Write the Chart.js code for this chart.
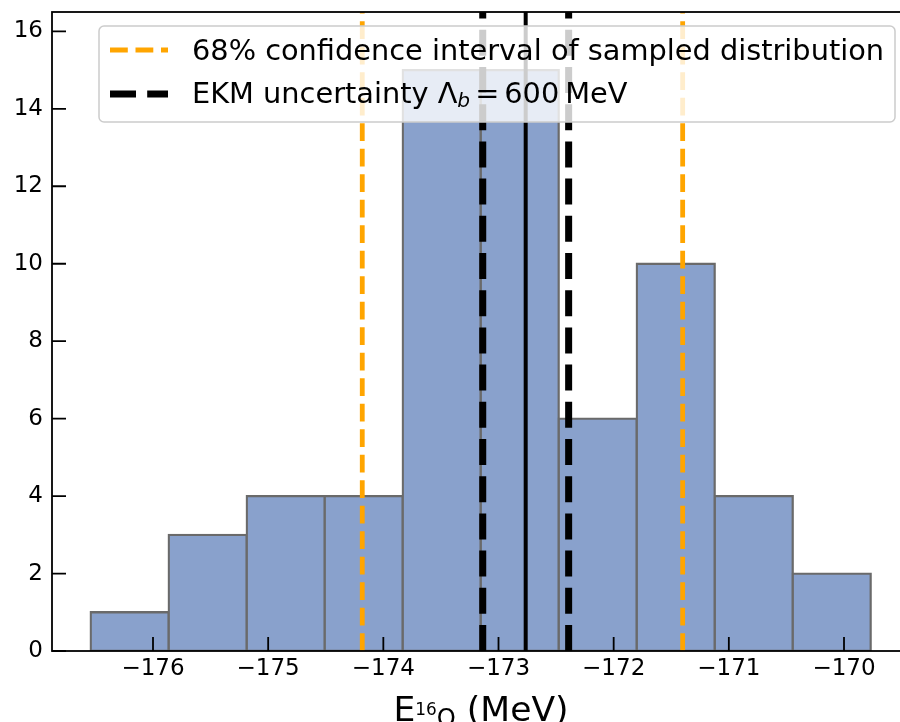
<!DOCTYPE html>
<html lang="en">
<head>
<meta charset="UTF-8">
<title>E16O histogram</title>
<script src="https://cdn.jsdelivr.net/npm/chart.js"></script>
<style>
    * { margin: 0; padding: 0; box-sizing: border-box; }
    html, body { width: 900px; height: 722px; overflow: hidden; background: #fff; }
    .wrap { position: relative; width: 912px; height: 722px; }
</style>
</head>
<body>
<div class="wrap"><canvas id="histCanvas"></canvas></div>
<script>
// histogram of sampled energies (MeV)
const binEdges = [-176.541, -175.864, -175.186, -174.509, -173.832, -173.154, -172.477, -171.800, -171.122, -170.445, -169.768];
const counts = [1, 3, 4, 4, 15, 15, 6, 10, 4, 2];
const xTickValues = [-176, -175, -174, -173, -172, -171, -170];
const yTickValues = [0, 2, 4, 6, 8, 10, 12, 14, 16];
const xRange = [-176.877, -169.427];
const yRange = [0, 16.5];
// 68% interval of the sampled distribution
const ciBounds = [-174.183, -171.401];
// EKM estimate and its band
const ekmCentral = -172.764;
const ekmBounds = [-173.137, -172.391];
const legendTexts = ['68% confidence interval of sampled distribution', 'EKM uncertainty '];

const FONT = "'DejaVu Sans', sans-serif";
const BASE = 24;

function fmt(v) {
    return (v < 0 ? '\u2212' : '') + Math.abs(v);
}

function vline(x, color, width, dash) {
    return {
        type: 'line',
        data: [{x: x, y: yRange[0]}, {x: x, y: yRange[1]}],
        borderColor: color,
        borderWidth: width,
        borderDash: dash,
        borderCapStyle: 'butt',
        pointRadius: 0,
        fill: false,
        order: 1
    };
}

const decor = {
    id: 'decor',
    afterDatasetsDraw(chart) {
        const {ctx, chartArea: a, scales: {x, y}} = chart;
        ctx.save();
        ctx.strokeStyle = '#000';
        ctx.lineWidth = 1.8;
        ctx.strokeRect(a.left, a.top, a.right - a.left, a.bottom - a.top);
        ctx.beginPath();
        xTickValues.forEach(v => {
            const px = x.getPixelForValue(v);
            ctx.moveTo(px, a.bottom);
            ctx.lineTo(px, a.bottom - 14);
        });
        yTickValues.forEach(v => {
            const py = y.getPixelForValue(v);
            ctx.moveTo(a.left, py);
            ctx.lineTo(a.left + 14, py);
        });
        ctx.stroke();
        ctx.restore();
    },
    afterDraw(chart) {
        const {ctx, chartArea: a} = chart;
        const lf = BASE * 1.2;
        ctx.save();

        // legend box
        ctx.beginPath();
        ctx.roundRect(99, 26, 796, 96, 5);
        ctx.fillStyle = 'rgba(255,255,255,0.8)';
        ctx.fill();
        ctx.strokeStyle = '#cccccc';
        ctx.lineWidth = 1.5;
        ctx.stroke();

        // handles
        ctx.lineCap = 'butt';
        ctx.strokeStyle = 'orange';
        ctx.lineWidth = 4.8;
        ctx.setLineDash([17.8, 7.7]);
        ctx.beginPath(); ctx.moveTo(110, 50); ctx.lineTo(168, 50); ctx.stroke();
        ctx.strokeStyle = '#000';
        ctx.lineWidth = 7;
        ctx.setLineDash([26, 11.2]);
        ctx.beginPath(); ctx.moveTo(110, 94); ctx.lineTo(168, 94); ctx.stroke();
        ctx.setLineDash([]);

        // labels
        ctx.fillStyle = '#000';
        ctx.textBaseline = 'alphabetic';
        ctx.textAlign = 'left';
        ctx.font = lf + 'px ' + FONT;
        ctx.fillText(legendTexts[0], 192, 60);
        let tx = 192;
        const by = 103;
        ctx.fillText(legendTexts[1], tx, by);
        tx += ctx.measureText(legendTexts[1]).width;
        ctx.fillText('\u039B', tx, by);
        tx += ctx.measureText('\u039B').width;
        ctx.font = 'oblique ' + (lf * 0.7) + 'px ' + FONT;
        ctx.fillText('b', tx, by + 4);
        tx += ctx.measureText('b').width + 5;
        ctx.font = lf + 'px ' + FONT;
        ctx.fillText('=', tx, by);
        tx += ctx.measureText('=').width + 5;
        ctx.fillText('600', tx, by);
        tx += ctx.measureText('600').width + 6;
        ctx.fillText('MeV', tx, by);

        // x axis title
        const tf = BASE * 1.44;
        const parts = [
            {t: 'E', s: tf, dy: 0},
            {t: '16', s: tf * 0.49, dy: -6},
            {t: 'O', s: tf * 0.7, dy: 4.6},
            {t: ' (MeV)', s: tf, dy: 0}
        ];
        let total = 0;
        parts.forEach(p => { ctx.font = p.s + 'px ' + FONT; p.w = ctx.measureText(p.t).width; total += p.w; });
        let cx = (a.left + a.right) / 2 - total / 2;
        const ty = 721;
        parts.forEach(p => {
            ctx.font = p.s + 'px ' + FONT;
            ctx.fillText(p.t, cx, ty + p.dy);
            cx += p.w;
        });
        ctx.restore();
    }
};

const ctx = document.getElementById('histCanvas').getContext('2d');
const chart = new Chart(ctx, {
    type: 'bar',
    data: {
        datasets: [
            vline(ciBounds[0], 'orange', 4.8, [17.8, 7.7]),
            vline(ciBounds[1], 'orange', 4.8, [17.8, 7.7]),
            vline(ekmBounds[0], '#000', 7, [26, 11.2]),
            vline(ekmBounds[1], '#000', 7, [26, 11.2]),
            vline(ekmCentral, '#000', 4, []),
            {
                type: 'bar',
                data: counts.map((c, i) => ({x: (binEdges[i] + binEdges[i + 1]) / 2, y: c})),
                backgroundColor: 'rgb(137,161,204)',
                borderColor: '#6a6a6a',
                borderWidth: 2.3,
                borderSkipped: false,
                inflateAmount: 1.15,
                barPercentage: 1,
                categoryPercentage: 1,
                order: 10
            }
        ]
    },
    options: {
        responsive: true,
        maintainAspectRatio: false,
        devicePixelRatio: 1,
        animation: false,
        layout: { padding: { top: 12, right: 2, left: 0, bottom: 0 } },
        plugins: { legend: { display: false }, tooltip: { enabled: false } },
        scales: {
            x: {
                type: 'linear',
                min: xRange[0],
                max: xRange[1],
                offset: false,
                grid: { display: false, drawTicks: false },
                border: { display: false },
                ticks: {
                    color: '#000',
                    font: { family: FONT, size: 23 },
                    padding: 4,
                    maxRotation: 0,
                    autoSkip: false,
                    callback: v => fmt(v)
                },
                afterBuildTicks: s => { s.ticks = xTickValues.map(v => ({value: v})); },
                afterFit: s => { s.height = 71; s.paddingLeft = 0; s.paddingRight = 0; }
            },
            y: {
                type: 'linear',
                min: yRange[0],
                max: yRange[1],
                grid: { display: false, drawTicks: false },
                border: { display: false },
                ticks: {
                    color: '#000',
                    font: { family: FONT, size: 23 },
                    padding: 9,
                    autoSkip: false,
                    callback: v => fmt(v)
                },
                afterBuildTicks: s => { s.ticks = yTickValues.map(v => ({value: v})); },
                afterFit: s => { s.width = 52; s.paddingTop = 0; s.paddingBottom = 0; }
            }
        }
    },
    plugins: [decor]
});
</script>
</body>
</html>
